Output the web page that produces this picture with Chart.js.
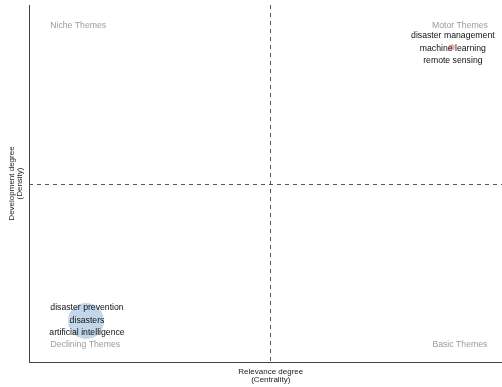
<!DOCTYPE html>
<html>
<head>
<meta charset="utf-8">
<script src="https://cdn.jsdelivr.net/npm/chart.js@4/dist/chart.umd.min.js"></script>
<style>
html,body{margin:0;padding:0;background:#fff;}
#wrap{width:502px;height:387px;position:relative;}
</style>
</head>
<body>
<div id="wrap"><canvas id="c" width="502" height="387"></canvas></div>
<script>
// Cluster data (normalised centrality / density)
const clusterNames = ["motor", "declining"];
const centrality = [0.894, 0.1205];
const density = [0.882, 0.115];
const bubbleRadius = [3, 18];
const bubbleColors = ["rgba(240,140,140,0.75)", "rgba(170,198,226,0.7)"];
const clusterLabels = [
  ["disaster management", "machine learning", "remote sensing"],
  ["disaster prevention", "disasters", "artificial intelligence"]
];
const meanCentrality = 0.509;
const meanDensity = 0.5;
const quadrantNames = ["Niche Themes", "Motor Themes", "Declining Themes", "Basic Themes"];
const axisTitles = { x: ["Relevance degree", "(Centrality)"], y: ["Development degree", "(Density)"] };

const FONT = "'Liberation Sans', Arial, sans-serif";

const overlay = {
  id: 'overlay',
  beforeDatasetsDraw(chart) {
    const ctx = chart.ctx, xs = chart.scales.x, ys = chart.scales.y, a = chart.chartArea;
    const mx = xs.getPixelForValue(meanCentrality), my = ys.getPixelForValue(meanDensity);
    ctx.save();
    ctx.strokeStyle = '#555';
    ctx.lineWidth = 1;
    ctx.setLineDash([4, 4]);
    ctx.beginPath();
    ctx.moveTo(Math.round(mx) + 0.5, a.top);
    ctx.lineTo(Math.round(mx) + 0.5, a.bottom);
    ctx.moveTo(a.left, Math.round(my) + 0.5);
    ctx.lineTo(a.right, Math.round(my) + 0.5);
    ctx.stroke();
    ctx.restore();
  },
  afterDatasetsDraw(chart) {
    const ctx = chart.ctx, xs = chart.scales.x, ys = chart.scales.y, a = chart.chartArea;
    ctx.save();
    ctx.textAlign = 'center';
    ctx.textBaseline = 'middle';
    ctx.font = "8.7px " + FONT;
    // quadrant labels
    ctx.fillStyle = '#9a9a9a';
    const qpos = [[0.104, 0.941], [0.911, 0.941], [0.119, 0.048], [0.911, 0.048]];
    quadrantNames.forEach((t, i) => {
      ctx.fillText(t, xs.getPixelForValue(qpos[i][0]), ys.getPixelForValue(qpos[i][1]));
    });
    // cluster labels
    ctx.fillStyle = '#111';
    clusterLabels.forEach((lines, i) => {
      const cx = xs.getPixelForValue(centrality[i]) + 1;
      const cy = ys.getPixelForValue(density[i]);
      const n = lines.length;
      lines.forEach((t, j) => {
        ctx.fillText(t, cx, cy + (j - (n - 1) / 2) * 12.5 + (i === 0 ? 1 : -0.5));
      });
    });
    // axis titles
    ctx.fillStyle = '#222';
    ctx.font = "8px " + FONT;
    const xm = xs.getPixelForValue(meanCentrality) + 1;
    ctx.fillText(axisTitles.x[0], xm, a.bottom + 10);
    ctx.fillText(axisTitles.x[1], xm, a.bottom + 18);
    const ym = ys.getPixelForValue(meanDensity);
    ctx.translate(12, ym);
    ctx.rotate(-Math.PI / 2);
    ctx.fillText(axisTitles.y[0], 0, 0);
    ctx.fillText(axisTitles.y[1], 0, 8);
    ctx.restore();
  }
};

new Chart(document.getElementById('c'), {
  type: 'bubble',
  data: {
    datasets: [{
      data: centrality.map((x, i) => ({ x: x, y: density[i], r: bubbleRadius[i] })),
      backgroundColor: bubbleColors,
      borderWidth: 0
    }]
  },
  options: {
    responsive: false,
    animation: false,
    events: [],
    layout: { autoPadding: false, padding: { left: 29, top: 5, right: 0, bottom: 25 } },
    plugins: { legend: { display: false }, tooltip: { enabled: false } },
    scales: {
      x: {
        type: 'linear', min: 0, max: 1,
        ticks: { display: false },
        grid: { display: false, drawTicks: false },
        border: { display: true, color: '#444', width: 1 },
        afterFit: s => { s.height = 0; }
      },
      y: {
        type: 'linear', min: 0, max: 1,
        ticks: { display: false },
        grid: { display: false, drawTicks: false },
        border: { display: true, color: '#444', width: 1 },
        afterFit: s => { s.width = 0; }
      }
    }
  },
  plugins: [overlay]
});
</script>
</body>
</html>
